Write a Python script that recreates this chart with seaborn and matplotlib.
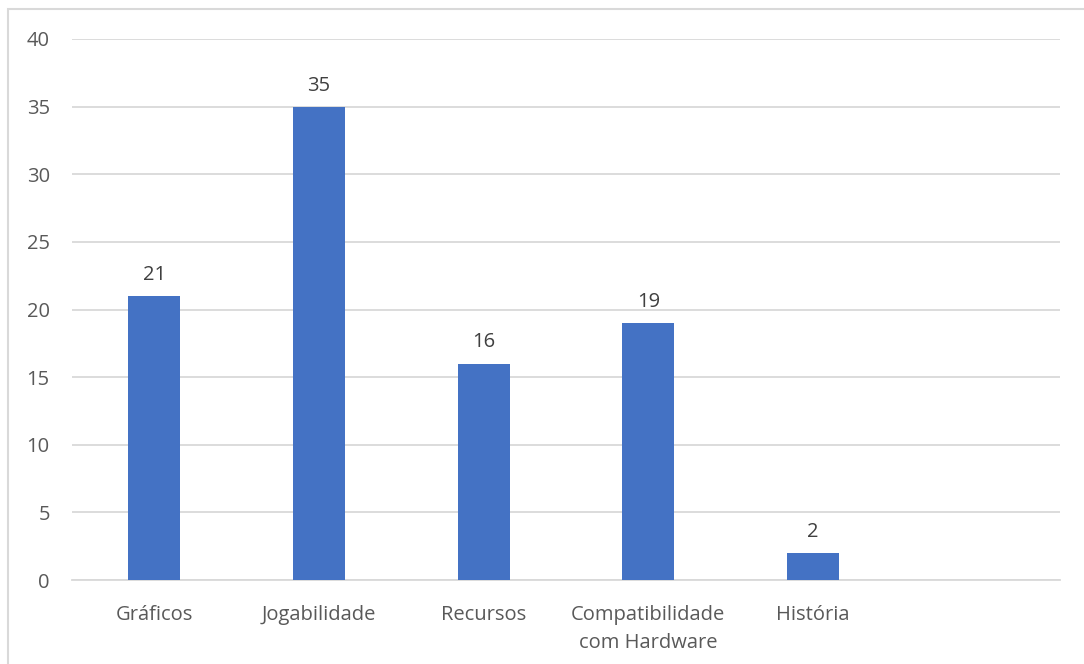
import matplotlib
matplotlib.use("Agg")
import matplotlib.pyplot as plt
import seaborn as sns
import pandas as pd
from matplotlib.patches import Rectangle

categories = ["Gráficos", "Jogabilidade", "Recursos", "Compatibilidade\ncom Hardware", "História"]
values = [21, 35, 16, 19, 2]
yticks = [0, 5, 10, 15, 20, 25, 30, 35, 40]

sns.set_theme(style="white")
plt.rcParams["font.family"] = ["Open Sans", "DejaVu Sans"]

W, H = 1084, 664
fig = plt.figure(figsize=(W / 100, H / 100), dpi=100)
ax = fig.add_axes([72 / W, 1 - 580 / H, (1060 - 72) / W, (580 - 39) / H])

df = pd.DataFrame({"cat": categories, "val": values})
sns.barplot(data=df, x="cat", y="val", color="#4472C4", width=0.316, ax=ax,
            saturation=1, zorder=3, linewidth=0)

ax.set_xlim(-0.5, 5.5)
ax.set_ylim(0, 40)
ax.set_yticks(yticks)
ax.set_yticklabels([str(t) for t in yticks])
ax.yaxis.grid(True, color="#D9D9D9", linewidth=1.3, zorder=0)
for s in ["top", "right", "left"]:
    ax.spines[s].set_visible(False)
ax.spines["bottom"].set_color("#D9D9D9")
ax.spines["bottom"].set_linewidth(1.3)
ax.set_xlabel("")
ax.set_ylabel("")
ax.tick_params(axis="both", length=0, colors="#595959", labelsize=14.5)
ax.tick_params(axis="y", pad=16)
ax.tick_params(axis="x", pad=18)
ax.set_xticks(range(len(categories)))
ax.set_xticklabels(categories, linespacing=1.5)

for i, v in enumerate(values):
    ax.annotate(str(v), (i, v), xytext=(0, 8), textcoords="offset points",
                ha="center", va="bottom", fontsize=14.5, color="#404040")

fig.patches.append(Rectangle((8 / W, -0.1), 1.2, 1 - 9 / H + 0.1, transform=fig.transFigure,
                             fill=False, edgecolor="#D9D9D9", linewidth=1.5))

fig.savefig("out.png", dpi=100, facecolor="white")
